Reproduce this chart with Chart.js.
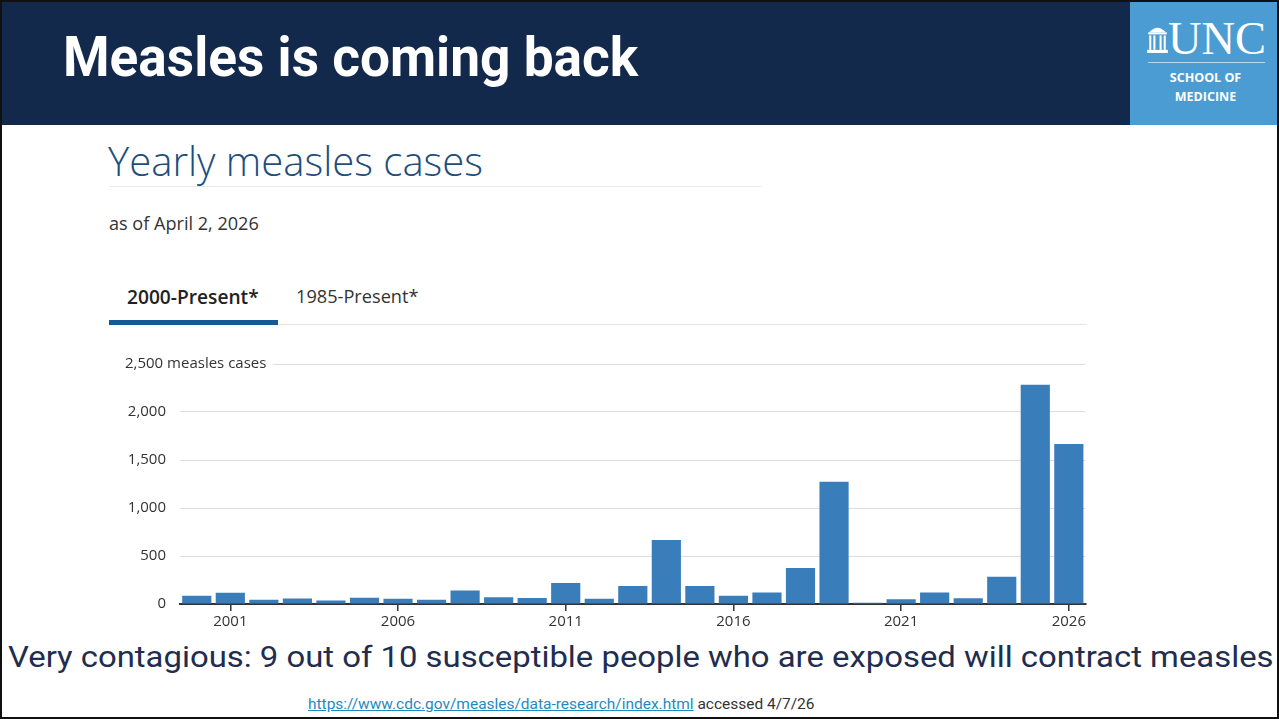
<!DOCTYPE html>
<html>
<head>
<meta charset="utf-8">
<title>Measles is coming back</title>
<script src="https://cdn.jsdelivr.net/npm/chart.js@4.4.1/dist/chart.umd.min.js"></script>
<style>
  html, body { margin: 0; padding: 0; background: #fff; }
  #slide {
    position: relative; width: 1279px; height: 719px; box-sizing: border-box;
    border: 2px solid #111; overflow: hidden; background: #fff;
  }
  /* posições abaixo são relativas à caixa interna (borda de 2px) */
  #band { position: absolute; left: 0; top: 0; width: 1275px; height: 123px; background: #13294b; }
  #headline {
    position: absolute; left: 61px; top: 22px; color: #fff; white-space: nowrap;
    font: bold 56px Roboto, sans-serif; transform-origin: left top;
  }
  #unc { position: absolute; left: 1128px; top: 0; width: 147px; height: 123px; background: #4b9cd3; color: #fff; }
  #unc .word { position: absolute; left: 38px; top: 10px; font: 46px "Liberation Serif", serif; transform-origin: left top; }
  #unc .rule { position: absolute; left: 18px; top: 60px; width: 117px; height: 1px; background: rgba(255,255,255,0.6); }
  #unc .sub { position: absolute; left: 0; width: 151px; text-align: center; font: bold 12.5px "Open Sans", sans-serif; }
  #unc svg { position: absolute; left: 17px; top: 21px; }
  #ctitle { position: absolute; left: 106px; top: 131px; color: #1d4e7e; white-space: nowrap;
    font: 300 34px "Open Sans", sans-serif; }
  #trule { position: absolute; left: 107px; top: 184px; width: 652px; height: 1px; background: #e8e8e8; }
  #asof { position: absolute; left: 107px; top: 209px; color: #333; white-space: nowrap; font: 17px "Open Sans", sans-serif; }
  .tab { position: absolute; top: 282px; font: 17px "Open Sans", sans-serif; color: #333; white-space: nowrap; }
  #tab1 { left: 125px; font-weight: 600; color: #222; }
  #tab2 { left: 294px; }
  #tabbar { position: absolute; left: 107px; top: 318px; width: 169px; height: 5px; background: #145a96; }
  #tabline { position: absolute; left: 276px; top: 322px; width: 809px; height: 1px; background: #e4e4e4; }
  #chartbox { position: absolute; left: 98px; top: 337px; width: 988px; height: 300px; }
  #note { position: absolute; left: 6px; top: 637px; color: #1f2d4f; white-space: nowrap;
    font: 30px Roboto, sans-serif; transform-origin: left top; }
  #src { position: absolute; left: 306px; top: 694px; white-space: nowrap; color: #333;
    font: 14px Roboto, sans-serif; transform-origin: left top; }
  #src a { color: #1f8ac0; }
</style>
</head>
<body>
<div id="slide">
  <div id="band"></div>
  <div id="headline" data-sx="575">Measles is coming back</div>
  <div id="unc">
    <svg width="21" height="31" viewBox="0 0 20 30">
      <path d="M2 9 Q10 0 18 9 Z" fill="#fff"/>
      <rect x="1" y="9" width="18" height="2" fill="#fff"/>
      <rect x="2" y="12" width="2" height="14" fill="#fff"/>
      <rect x="6" y="12" width="2" height="14" fill="#fff"/>
      <rect x="12" y="12" width="2" height="14" fill="#fff"/>
      <rect x="16" y="12" width="2" height="14" fill="#fff"/>
      <rect x="0" y="26" width="20" height="3" fill="#fff"/>
    </svg>
    <div class="word" data-sx="98">UNC</div>
    <div class="rule"></div>
    <div class="sub" style="top:67px">SCHOOL OF</div>
    <div class="sub" style="top:86px">MEDICINE</div>
  </div>

  <div id="ctitle" data-w="375">Yearly measles cases</div>
  <div id="trule"></div>
  <div id="asof" data-w="150">as of April 2, 2026</div>
  <div class="tab" id="tab1" data-w="132">2000-Present*</div>
  <div class="tab" id="tab2" data-w="123">1985-Present*</div>
  <div id="tabbar"></div>
  <div id="tabline"></div>

  <div id="chartbox"><canvas id="grafico-sarampo"></canvas></div>

  <div id="note" data-sx="1265">Very contagious: 9 out of 10 susceptible people who are exposed will contract measles</div>
  <div id="src" data-sx="507"><a href="#">https://www.cdc.gov/measles/data-research/index.html</a> accessed 4/7/26</div>
</div>

<script>
// ==========================
// DADOS
// ==========================
const years = ["2000", "2001", "2002", "2003", "2004", "2005", "2006", "2007", "2008", "2009",
  "2010", "2011", "2012", "2013", "2014", "2015", "2016", "2017", "2018", "2019",
  "2020", "2021", "2022", "2023", "2024", "2025", "2026"];
const cases = [86, 116, 44, 56, 37, 66, 55, 43, 140, 71,
  63, 220, 55, 187, 667, 188, 86, 120, 375, 1274,
  13, 49, 121, 59, 285, 2285, 1667];
const tickYears = ["2001", "2006", "2011", "2016", "2021", "2026"];
const yTicks = [0, 500, 1000, 1500, 2000, 2500];
const topLabel = "2,500 measles cases";

// ajusta largura dos textos do slide
document.querySelectorAll("[data-w]").forEach(el => {
  const size = parseFloat(getComputedStyle(el).fontSize);
  el.style.fontSize = (size * el.dataset.w / el.scrollWidth) + "px";
});
document.querySelectorAll("[data-sx]").forEach(el => {
  el.style.transform = "scaleX(" + (el.dataset.sx / el.scrollWidth) + ")";
});

// rótulo do topo do eixo y
const topLabelPlugin = {
  id: "topLabel",
  afterDraw(chart) {
    const c = chart.ctx;
    const y = chart.scales.y.getPixelForValue(yTicks[yTicks.length - 1]);
    c.save();
    c.font = "15px 'Open Sans', sans-serif";
    const w = c.measureText(topLabel).width;
    c.fillStyle = "#fff";
    c.fillRect(22, y - 10, w + 10, 20);
    c.fillStyle = "#333";
    c.textBaseline = "middle";
    c.fillText(topLabel, 25, y);
    c.restore();
  }
};

const ctx = document.getElementById("grafico-sarampo");
new Chart(ctx, {
  type: "bar",
  data: {
    labels: years,
    datasets: [{
      data: cases,
      backgroundColor: "#3a7dbb",
      barPercentage: 0.87,
      categoryPercentage: 1
    }]
  },
  options: {
    responsive: true,
    maintainAspectRatio: false,
    animation: false,
    layout: { padding: { top: 25, right: 1 } },
    plugins: { legend: { display: false }, tooltip: { enabled: false } },
    scales: {
      x: {
        afterFit: s => { s.height = 35; },
        border: { color: "#333", width: 2 },
        grid: {
          offset: false,
          drawOnChartArea: false,
          tickLength: 7,
          lineWidth: 1.5,
          color: c => tickYears.includes(years[c.index]) ? "#333" : "rgba(0,0,0,0)"
        },
        ticks: {
          autoSkip: false,
          maxRotation: 0,
          padding: 2,
          color: "#333",
          font: { family: "'Open Sans', sans-serif", size: 15 },
          callback: (v, i) => tickYears.includes(years[i]) ? years[i] : ""
        }
      },
      y: {
        min: 0,
        max: yTicks[yTicks.length - 1],
        afterFit: s => { s.width = 80; },
        afterBuildTicks: s => { s.ticks = yTicks.map(v => ({ value: v })); },
        border: { display: false },
        grid: { color: "#dedede", drawTicks: false },
        ticks: {
          padding: 14,
          color: "#333",
          font: { family: "'Open Sans', sans-serif", size: 15 },
          callback: v => v === yTicks[yTicks.length - 1] ? "" : v.toLocaleString("en-US")
        }
      }
    }
  },
  plugins: [topLabelPlugin]
});
</script>
</body>
</html>
